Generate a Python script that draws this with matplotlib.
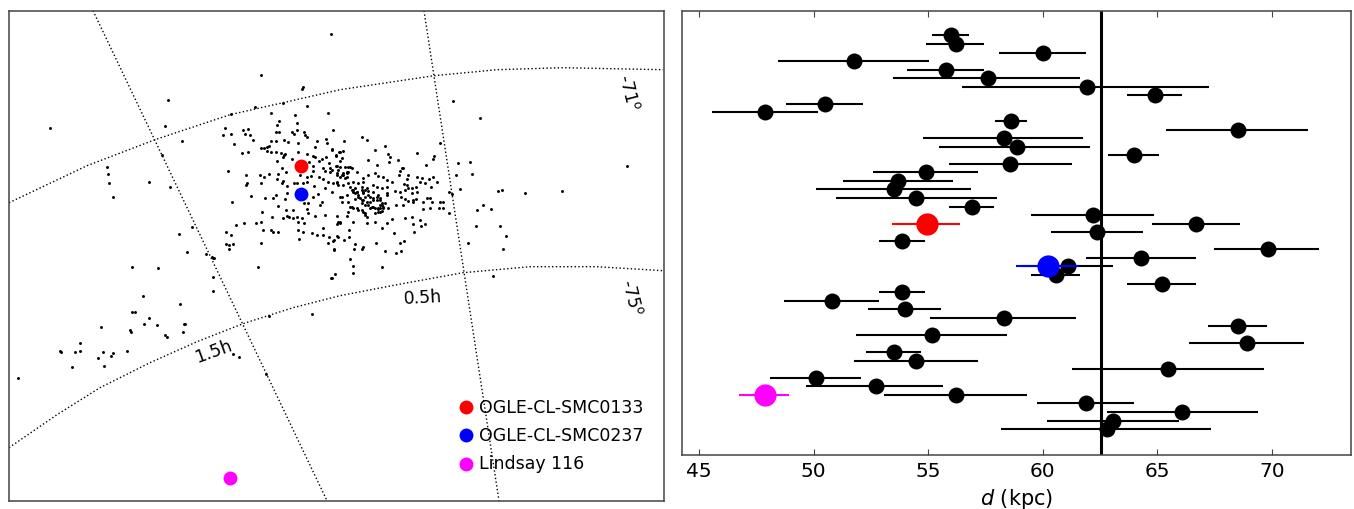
import matplotlib
matplotlib.use('Agg')
import matplotlib.pyplot as plt

W, H = 1354.0, 510.0

# cluster positions on the map, in map units
stars_north = [(331,34),(261,75),(303,87),(302,89),(168,100),(283,103),(255,107),(307,106),(231,114),(271,113),
    (295,115),(328,113),(50,128),(165,126),(279,121),(277,125),(297,123),(225,128),(243,130),(248,129),(333,130),
    (276,132),(279,132),(292,132),(294,134),(297,130),(304,132),(305,135),(307,137),(223,135),(231,134),(245,134),
    (250,135),(253,140),(182,141),(271,141),(276,141),(284,140),(288,142),(298,143),(317,141),(326,139),(327,143),
    (234,144),(162,155),(261,148),(264,148),(267,147),(269,146),(315,147),(332,150),(242,153),(248,152),(267,151),
    (271,152),(276,152),(281,153),(285,154),(283,157),(284,155),(298,152),(307,154),(313,156),(315,157),(319,161),
    (322,159),(326,157),(336,156),(339,152),(292,159),(277,161),(309,162),(329,163),(337,166)]
stars_west = [(107,167),(108,174),(109,183),(113,197),(149,182),(170,187),(282,168),(286,172),(313,166),(313,171),
    (323,168),(325,171),(330,168),(330,172),(338,170),(228,171),(246,175),(260,175),(264,177),(269,174),(278,174),
    (277,179),(283,181),(282,183),(287,186),(300,175),(307,177),(311,176),(307,182),(319,177),(323,179),(328,182),
    (333,183),(338,185),(247,183),(246,185),(261,183),(294,183),(297,183),(303,183),(314,186),(325,188),(332,192),
    (287,193),(318,194),(313,197),(251,196),(265,198),(273,198),(276,195),(285,199),(340,197),(232,202),(278,206),
    (304,203),(308,203),(322,202),(320,205),(307,209),(286,210),(293,210),(262,212),(308,213),(315,216),(325,215),
    (337,216),(272,217),(283,218),(287,216),(289,217),(293,218),(297,217),(302,218),(256,223),(261,222),(244,223),
    (236,225),(298,222),(304,223),(337,224),(340,222),(192,227),(323,228),(226,232),(231,235),(179,234),(263,230),
    (271,230),(273,232),(278,232),(298,230),(303,232),(312,233),(317,235),(323,235),(329,237),(337,236),(299,239),
    (334,240),(333,241),(261,243),(226,244),(229,245),(233,244),(229,249),(328,243),(334,250),(187,252),(206,254)]
stars_east = [(453,101),(480,118),(627,166),(440,143),(362,137),(367,140),(344,141),(385,146),(375,150),(332,149),
    (340,152),(343,151),(336,155),(342,158),(340,161),(388,154),(390,157),(389,162),(417,153),(398,160),(434,156),
    (433,159),(368,160),(458,163),(470,162),(426,165),(377,165),(402,168),(400,171),(399,175),(403,168),(336,166),
    (340,167),(345,167),(350,167),(332,170),(337,173),(343,173),(347,172),(347,177),(342,175),(357,172),(363,178),
    (363,182),(368,175),(375,173),(378,176),(383,177),(387,180),(392,182),(456,175),(472,174),(408,175),(407,179),
    (404,184),(407,185),(417,177),(422,178),(420,182),(425,183),(429,179),(433,177),(437,182),(431,187),(416,187),
    (412,188),(337,183),(343,185),(348,183),(353,182),(358,183),(350,187),(353,190),(357,192),(362,187),(367,188),
    (373,185),(377,187),(382,188),(387,187),(363,192),(368,195),(373,192),(378,195),(387,193),(387,195),(395,191),
    (400,192),(405,190),(408,188),(412,193),(417,192),(449,192),(452,194),(460,189),(498,191),(502,190),(525,193),
    (562,191),(342,197),(347,195),(342,202),(348,202),(355,199),(358,197),(362,200),(365,197),(370,202),(373,200),
    (377,197),(380,200),(385,203),(382,205),(396,205),(401,197),(405,199),(408,201),(413,200),(416,199),(403,205),
    (413,202),(427,198),(430,198),(432,202),(423,202),(423,209),(430,208),(440,202),(443,202),(439,208),(443,208),
    (449,213),(477,210),(483,205),(491,209),(352,207),(357,208),(362,210),(365,213),(367,217),(368,205),(372,207),
    (375,208),(378,208),(380,212),(383,208),(388,208),(375,213),(348,212),(347,216),(338,222),(340,223),(353,222),
    (367,223),(375,222),(387,223),(392,219),(405,218),(412,217),(382,228),(394,233),(413,224),(420,220),(421,226),
    (425,224),(414,232),(349,230),(349,237),(338,237),(344,240),(476,226),(500,226),(506,236),(404,241),(400,243),
    (376,243),(468,243),(355,244),(363,247),(362,249),(354,249),(334,249),(385,251),(396,253),(401,251),(503,249)]
stars_south = [(213,258),(212,257),(214,258),(132,267),(158,268),(258,267),(335,274),(331,278),(213,277),(213,291),
    (143,296),(180,304),(132,312),(135,312),(312,314),(269,316),(149,318),(184,324),(185,324),(144,324),(157,325),
    (101,327),(130,330),(131,332),(183,332),(165,335),(167,337),(80,343),(60,351),(61,352),(75,352),(80,351),
    (103,352),(127,351),(113,353),(111,356),(98,358),(72,367),(104,366),(18,378),(233,354),(239,357),(266,374),
    (350,259),(353,266),(353,273),(332,278),(382,267),(493,276)]
stars_core = [(358,195),(360,198),(363,200),(367,202),(370,197),(373,198),(377,200),(380,198),(382,203),(380,208),
    (378,212),(373,207),(370,208),(365,205),(362,203),(337,175),(340,177),(343,175),(345,178),(337,182),(347,173),
    (348,167),(352,168),(348,172),(355,188),(353,192),(357,192),(355,193),(352,190),(365,190),(368,191),(362,190),
    (363,193),(350,207),(353,208),(358,210),(363,212),(365,215),(380,205),(383,207),(378,209),(382,211)]

# highlighted clusters
special_names = ['OGLE-CL-SMC0133', 'OGLE-CL-SMC0237', 'Lindsay 116']
special_colors = ['red', 'blue', 'magenta']
special_map_x = [301, 301, 230]
special_map_y = [166, 194, 478]
special_row = [22, 27, 42]
special_d = [54.95, 60.24, 47.88]
special_lo = [53.43, 58.83, 46.75]
special_hi = [56.40, 61.60, 48.93]

# graticule
par71_x = [9, 87, 155, 230, 283, 340, 434, 497, 563, 663]
par71_y = [203, 166, 140, 115, 103, 90, 76, 70, 68, 70]
par75_x = [9, 57, 100, 150, 197, 243, 293, 340, 397, 463, 530, 597, 663]
par75_y = [448, 415, 388, 363, 342, 324, 308, 296, 285, 273, 267, 267, 271]
mer15_x = [93, 327]
mer15_y = [11, 501]
mer05_x = [424, 499]
mer05_y = [11, 501]

# distances, one row per cluster
dist = [56.02, 56.20, 60.00, 51.78, 55.78, 57.60, 61.93, 64.90, 50.48, 47.88,
        58.61, 68.52, 58.30, 58.86, 64.00, 58.57, 54.89, 53.70, 53.50, 54.48,
        56.90, 62.20, 66.70, 62.38, 53.87, 69.83, 64.28, 61.09, 60.60, 65.20,
        53.87, 50.80, 54.00, 58.30, 68.52, 55.17, 68.90, 53.50, 54.48, 65.49,
        50.12, 52.72, 56.20, 61.91, 66.10, 63.08, 62.79]
dist_lo = [55.17, 54.89, 58.09, 48.46, 54.09, 53.48, 56.46, 63.67, 48.80, 45.58,
           57.90, 65.39, 54.79, 55.49, 62.87, 55.90, 52.60, 51.30, 50.10, 50.98,
           55.90, 59.48, 64.78, 60.38, 52.88, 67.48, 61.90, 59.10, 59.48, 63.67,
           52.88, 48.70, 52.37, 55.08, 67.20, 51.85, 66.37, 52.28, 51.76, 61.29,
           48.10, 49.67, 53.07, 59.76, 62.79, 60.18, 58.19]
dist_hi = [56.78, 57.46, 61.88, 55.05, 57.46, 61.65, 67.28, 66.09, 52.17, 50.18,
           59.30, 71.57, 61.75, 62.07, 65.06, 61.29, 57.16, 56.07, 56.87, 57.99,
           57.88, 64.87, 68.60, 64.36, 54.87, 72.08, 66.68, 63.06, 61.65, 66.68,
           54.87, 52.87, 55.57, 61.47, 69.80, 58.45, 71.39, 54.69, 57.16, 69.65,
           52.07, 55.66, 59.30, 64.00, 69.38, 65.97, 67.37]
mean_dist = 62.53
xticks_right = [45, 50, 55, 60, 65, 70]


def axes_from_pixels(fig, x0, y0, x1, y1):
    return fig.add_axes([x0 / W, 1 - y1 / H, (x1 - x0) / W, (y1 - y0) / H])


fig = plt.figure(figsize=(13.54, 5.10), dpi=100)

# left panel, the map
ax = axes_from_pixels(fig, 8.5, 11.7, 663.5, 501.7)
ax.set_xlim(8.5, 663.5)
ax.set_ylim(501, 11)
ax.set_xticks([])
ax.set_yticks([])

for xs, ys in [(par71_x, par71_y), (par75_x, par75_y), (mer15_x, mer15_y), (mer05_x, mer05_y)]:
    ax.plot(xs, ys, color='k', lw=1.0, ls=(0, (1, 1.7)), zorder=1)

stars = stars_north + stars_west + stars_east + stars_south + stars_core
ax.scatter([s[0] for s in stars], [s[1] for s in stars], s=4.5, color='k', linewidths=0, zorder=2)

for i in range(3):
    ax.scatter(special_map_x[i], special_map_y[i], s=100, color=special_colors[i], linewidths=0,
               zorder=3, label=special_names[i])

ax.text(628, 92, '-71$^{\\mathrm{o}}$', rotation=-76, fontsize=12.5, ha='center', va='center')
ax.text(631, 297, '-75$^{\\mathrm{o}}$', rotation=-76, fontsize=12.5, ha='center', va='center')
ax.text(423, 297, '0.5h', rotation=3, fontsize=12.5, ha='center', va='center')
ax.text(214, 351, '1.5h', rotation=20, fontsize=12.5, ha='center', va='center')

ax.legend(loc='lower right', bbox_to_anchor=(0.993, 0.026), frameon=False, scatterpoints=1, fontsize=12.5,
          handlelength=0.5, handletextpad=0.5, labelspacing=0.6)

# right panel, distances
ax2 = axes_from_pixels(fig, 682, 11.7, 1351, 456)
rows = list(range(len(dist)))
err = [[d - lo for d, lo in zip(dist, dist_lo)], [hi - d for d, hi in zip(dist, dist_hi)]]
ax2.errorbar(dist, rows, xerr=err, fmt='o', color='k', ms=11.5, mew=0, elinewidth=1.5, capsize=0, zorder=3)
for i in range(3):
    ax2.errorbar(special_d[i], special_row[i],
                 xerr=[[special_d[i] - special_lo[i]], [special_hi[i] - special_d[i]]],
                 fmt='o', color=special_colors[i], ms=16, mew=0, elinewidth=1.5, capsize=0, zorder=4)
ax2.axvline(mean_dist, color='k', lw=2.2, zorder=2)

ax2.set_xlim(44.26, 73.46)
ax2.set_ylim(49.03, -2.89)
ax2.set_yticks([])
ax2.set_xticks(xticks_right)
ax2.tick_params(axis='x', direction='in', top=True, length=4, width=0.8, color='#444444', labelsize=14.5, pad=4)
ax2.set_xlabel('$d$ (kpc)', fontsize=15, labelpad=4.5)

for a in [ax, ax2]:
    for sp in a.spines.values():
        sp.set_color('#444444')
        sp.set_linewidth(1.1)

plt.savefig('out.png', dpi=100)
